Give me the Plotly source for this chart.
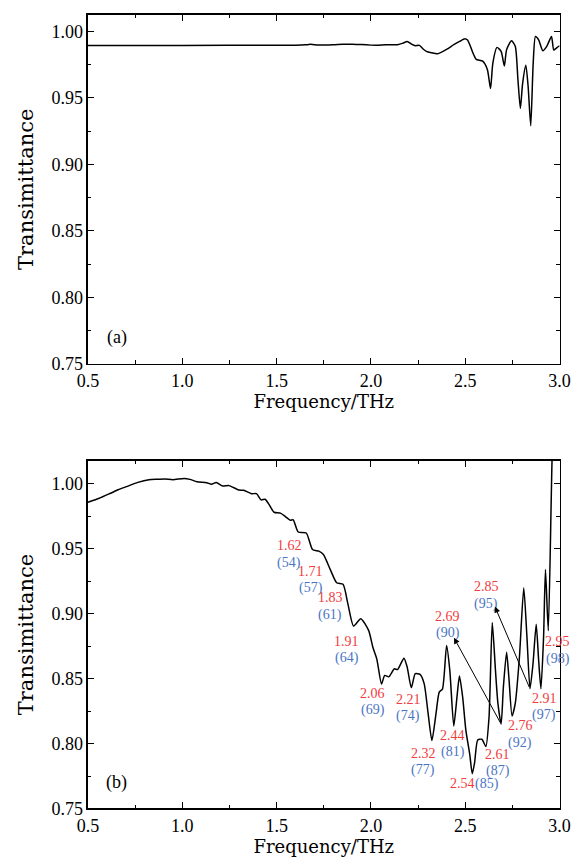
import plotly.graph_objects as go

# ---------------- data ----------------
# (a) transmittance spectrum
freq_a = [0.5, 1.0, 1.5, 1.6, 1.65, 1.68, 1.72, 1.8, 1.85, 1.9, 1.95, 2.0, 2.03, 2.08,
          2.141, 2.17, 2.192, 2.215, 2.235, 2.257, 2.275, 2.294, 2.32, 2.354, 2.4, 2.439,
          2.47, 2.498, 2.512, 2.524, 2.54, 2.558, 2.592, 2.617, 2.634, 2.646, 2.668, 2.69,
          2.707, 2.719, 2.745, 2.765, 2.779, 2.792, 2.804, 2.821, 2.833, 2.847, 2.86, 2.872,
          2.889, 2.911, 2.932, 2.957, 2.969, 2.983, 2.995, 3.0]
trans_a = [0.9895, 0.9895, 0.9896, 0.9897, 0.9899, 0.9903, 0.9898, 0.9899, 0.9904, 0.9903,
           0.9901, 0.9897, 0.9896, 0.9899,
           0.9900, 0.9912, 0.9925, 0.9905, 0.9893, 0.9895, 0.9870, 0.9850, 0.9840, 0.9833,
           0.9865, 0.9900,
           0.9925, 0.9945, 0.9935, 0.9900, 0.9840, 0.9790, 0.9776, 0.9714, 0.9570, 0.9760,
           0.9880, 0.9850,
           0.9740, 0.9863, 0.9930, 0.9888, 0.9640, 0.9420, 0.9610, 0.9746, 0.9590, 0.9290,
           0.9760, 0.9962,
           0.9937, 0.9855, 0.9888, 0.9962, 0.9860, 0.9875, 0.9888, 0.9890]

# (b) transmittance spectrum
freq_b = [0.5, 0.56, 0.619, 0.66, 0.704, 0.764, 0.823, 0.87, 0.908, 0.95, 1.01, 1.04,
          1.078, 1.129, 1.155, 1.18, 1.214, 1.248, 1.3, 1.325, 1.367, 1.393, 1.418, 1.439,
          1.461, 1.486, 1.52, 1.546, 1.571, 1.588, 1.614, 1.657, 1.69, 1.724, 1.748, 1.784,
          1.818, 1.852, 1.878, 1.908, 1.946, 1.988, 2.01, 2.031, 2.056, 2.073, 2.095, 2.124,
          2.141, 2.175, 2.192, 2.214, 2.235, 2.26, 2.282, 2.303, 2.323, 2.345, 2.362, 2.379,
          2.401, 2.418, 2.439, 2.456, 2.469, 2.486, 2.503, 2.524, 2.537, 2.549, 2.566, 2.588,
          2.609, 2.626, 2.643, 2.66, 2.673, 2.69, 2.702, 2.719, 2.731, 2.748, 2.765, 2.787,
          2.81, 2.827, 2.843, 2.859, 2.876, 2.889, 2.901, 2.915, 2.925, 2.94, 2.962, 2.98, 3.0]
trans_b = [0.9859, 0.9890, 0.9928, 0.9955, 0.9979, 1.0012, 1.0033, 1.0036, 1.0038, 1.0033,
           1.0042, 1.0035,
           1.0017, 1.0010, 0.9998, 1.0011, 0.9984, 0.9987, 0.9953, 0.9951, 0.9925, 0.9925,
           0.9877, 0.9882,
           0.9839, 0.9782, 0.9775, 0.9749, 0.9721, 0.9723, 0.9630, 0.9622, 0.9495, 0.9482,
           0.9457, 0.9342,
           0.9239, 0.9227, 0.9074, 0.8905, 0.8962, 0.8870, 0.8742, 0.8651, 0.8459, 0.8525,
           0.8514, 0.8576,
           0.8570, 0.8658, 0.8589, 0.8431, 0.8538, 0.8533, 0.8462, 0.8232, 0.8023, 0.8232,
           0.8397, 0.8420,
           0.8755, 0.8564, 0.8135, 0.8359, 0.8520, 0.8359, 0.8104, 0.7913, 0.7768, 0.7849,
           0.8028, 0.8033,
           0.7977, 0.8205, 0.8933, 0.8564, 0.8309, 0.8150, 0.8436, 0.8704, 0.8512, 0.8212,
           0.8309, 0.8665,
           0.9200, 0.8818, 0.8422, 0.8615, 0.8919, 0.8640, 0.8422, 0.8818, 0.9340, 0.8870,
           1.0300, 1.0800, 1.0800]

# resonance labels: frequency (THz) and mode number
res_freq = ["1.62", "1.71", "1.83", "1.91", "2.06", "2.21", "2.32", "2.44",
            "2.61", "2.69", "2.76", "2.85", "2.91", "2.95"]
res_mode = ["(54)", "(57)", "(61)", "(64)", "(69)", "(74)", "(77)", "(81)",
            "(87)", "(90)", "(92)", "(95)", "(97)", "(98)"]
# label anchor (x, y of first line) in data units
res_pos = [(1.566, 0.9525), (1.681, 0.9328), (1.783, 0.9124), (1.872, 0.8790),
           (2.010, 0.8389), (2.199, 0.8343), (2.276, 0.7927), (2.434, 0.8063),
           (2.673, 0.7919), (2.408, 0.8980), (2.791, 0.8139), (2.612, 0.9207),
           (2.918, 0.8351), (2.990, 0.8783)]
# single-line label
res_inline = ("2.54", "(85)")
res_inline_pos = ((2.485, 0.7689), (2.617, 0.7689))
# arrows: (tail at resonance dip) -> (head at label)
arrow_tail = [(2.690, 0.8150), (2.843, 0.8422)]
arrow_head = [(2.440, 0.8815), (2.657, 0.9055)]

x_ticks = [0.5, 1.0, 1.5, 2.0, 2.5, 3.0]
y_ticks = [0.75, 0.80, 0.85, 0.90, 0.95, 1.00]

# ---------------- styling ----------------
W, H = 586, 859
RED = "#f03c3c"
BLUE = "#4a74c2"
NUMF = "Liberation Serif"
TITF = "DejaVu Serif"

fig = go.Figure()
fig.add_trace(go.Scatter(x=freq_a, y=trans_a, mode="lines",
                         line=dict(color="black", width=1.5, shape="spline", smoothing=0.6),
                         xaxis="x", yaxis="y", showlegend=False))
fig.add_trace(go.Scatter(x=freq_b, y=trans_b, mode="lines",
                         line=dict(color="black", width=1.5, shape="spline", smoothing=0.6),
                         xaxis="x2", yaxis="y2", showlegend=False))

xdom = [80 / W, 570 / W]
ydom_a = [1 - 368 / H, 1 - 15 / H]
ydom_b = [1 - 818 / H, 1 - 466 / H]

common_x = dict(range=[0.5, 3.0], tickvals=x_ticks, tickformat=".1f",
                ticks="inside", ticklen=6, tickwidth=1, tickcolor="black",
                showline=True, linecolor="black", linewidth=1.5, mirror="ticks",
                showgrid=False, zeroline=False,
                minor=dict(ticks="inside", ticklen=3.5, dtick=0.25, tick0=0.5,
                           tickcolor="black", tickwidth=1, showgrid=False),
                tickfont=dict(family=NUMF, size=18, color="black"),
                title=dict(text="Frequency/THz", font=dict(family=TITF, size=18, color="black"),
                           standoff=4))
common_y = dict(tickvals=y_ticks, tickformat=".2f",
                ticks="inside", ticklen=6, tickwidth=1, tickcolor="black",
                showline=True, linecolor="black", linewidth=1.5, mirror="ticks",
                showgrid=False, zeroline=False,
                minor=dict(ticks="inside", ticklen=3.5, dtick=0.025, tick0=0.75,
                           tickcolor="black", tickwidth=1, showgrid=False),
                tickfont=dict(family=NUMF, size=18, color="black"),
                title=dict(text="Transimittance", font=dict(family=TITF, size=21, color="black"),
                           standoff=12))

fig.update_layout(
    width=W, height=H, margin=dict(l=0, r=0, t=0, b=0),
    paper_bgcolor="white", plot_bgcolor="white",
    xaxis=dict(domain=xdom, anchor="y", **common_x),
    yaxis=dict(domain=ydom_a, anchor="x", range=[0.75, 1.0125], **common_y),
    xaxis2=dict(domain=xdom, anchor="y2", **common_x),
    yaxis2=dict(domain=ydom_b, anchor="x2", range=[0.75, 1.018], **common_y),
)

ann = []
ann.append(dict(x=0.653, y=0.770, xref="x", yref="y", text="(a)", showarrow=False,
                font=dict(family=NUMF, size=18, color="black")))
ann.append(dict(x=0.653, y=0.770, xref="x2", yref="y2", text="(b)", showarrow=False,
                font=dict(family=NUMF, size=18, color="black")))

for f, m, (px, py) in zip(res_freq, res_mode, res_pos):
    ann.append(dict(x=px, y=py, xref="x2", yref="y2", text=f, showarrow=False,
                    font=dict(family=NUMF, size=14, color=RED)))
    ann.append(dict(x=px, y=py, xref="x2", yref="y2", text=m, showarrow=False, yshift=-17,
                    font=dict(family=NUMF, size=14, color=BLUE)))
ann.append(dict(x=res_inline_pos[0][0], y=res_inline_pos[0][1], xref="x2", yref="y2",
                text=res_inline[0], showarrow=False, font=dict(family=NUMF, size=14, color=RED)))
ann.append(dict(x=res_inline_pos[1][0], y=res_inline_pos[1][1], xref="x2", yref="y2",
                text=res_inline[1], showarrow=False, font=dict(family=NUMF, size=14, color=BLUE)))

for (tx, ty), (hx, hy) in zip(arrow_tail, arrow_head):
    ann.append(dict(x=hx, y=hy, ax=tx, ay=ty, xref="x2", yref="y2", axref="x2", ayref="y2",
                    text="", showarrow=True, arrowhead=2, arrowsize=1.2, arrowwidth=1,
                    arrowcolor="black", standoff=0, startstandoff=0))

fig.update_layout(annotations=ann)
fig.write_html("out.html",
               config={"displayModeBar": False, "staticPlot": True},
               post_script="document.body.style.margin='0';document.body.style.overflow='hidden';")
